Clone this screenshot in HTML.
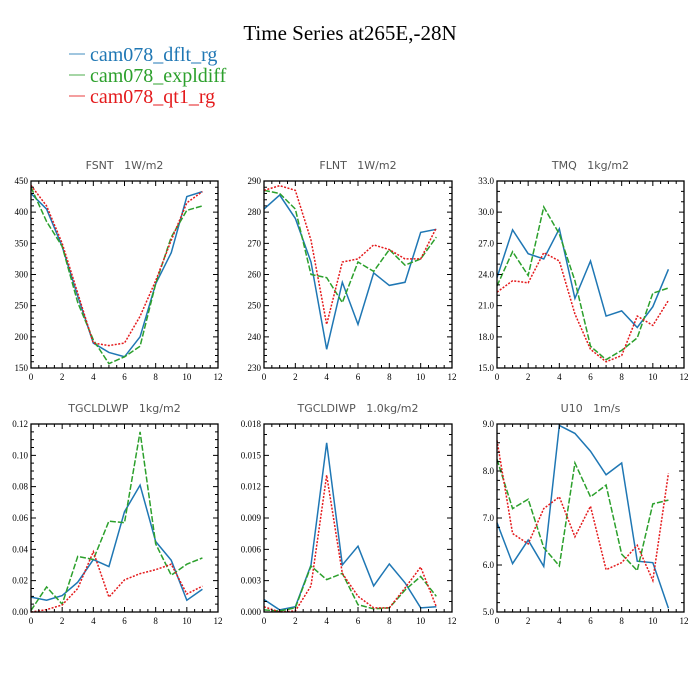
<!DOCTYPE html>
<html><head><meta charset="utf-8"><style>
body{margin:0;background:#fff}
svg{display:block}
.pt{white-space:pre}
</style></head><body>
<svg id="c" width="700" height="700" xmlns="http://www.w3.org/2000/svg">
<rect width="700" height="700" fill="#fff"/>
<text x="350" y="40" font-family="Liberation Serif, serif" font-size="21" text-anchor="middle" fill="#000">Time Series at265E,-28N</text>
<g>
<g><line x1="69" y1="54" x2="85" y2="54" stroke="#1f77b4" stroke-width="1.2" opacity="0.7"/><text x="90" y="61" font-family="Liberation Serif, serif" font-size="20" fill="#1f77b4">cam078_dflt_rg</text></g>
<g><line x1="69" y1="75" x2="85" y2="75" stroke="#2ca02c" stroke-width="1.2" opacity="0.7"/><text x="90" y="82" font-family="Liberation Serif, serif" font-size="20" fill="#2ca02c">cam078_expldiff</text></g>
<g><line x1="69" y1="96" x2="85" y2="96" stroke="#e41a1c" stroke-width="1.2" opacity="0.7"/><text x="90" y="103" font-family="Liberation Serif, serif" font-size="20" fill="#e41a1c">cam078_qt1_rg</text></g>
</g>
</svg>
<script>
const months=[0,1,2,3,4,5,6,7,8,9,10,11];
const xTicks=["0","2","4","6","8","10","12"];
const fsntBlue=[430,405,345,265,190,175,168,200,285,335,425,433];
const fsntGreen=[440,385,345,255,195,157,168,185,285,360,403,410];
const fsntRed=[443,410,350,270,190,186,190,233,290,355,415,433];
const flntBlue=[281,285.5,278,264,236,257.5,244,260.5,256.5,257.5,273.5,274.5];
const flntGreen=[287,286,281,260,259,251,264,261,268,263,265,272];
const flntRed=[287,288.5,287,271,244,264,265,269.5,268,265,265,275];
const tmqBlue=[23.7,28.3,26,25.5,28.4,21.7,25.3,20,20.5,18.9,20.9,24.5];
const tmqGreen=[22.9,26.2,23.9,30.5,27.9,23.4,17.1,15.8,16.7,17.9,22.2,22.7];
const tmqRed=[22.3,23.4,23.2,26.1,25.3,20.2,16.8,15.6,16.2,20.0,19.1,21.5];
const lwpBlue=[.0095,.0075,.0105,.019,.0335,.029,.064,.081,.045,.033,.0075,.0145];
const lwpGreen=[.001,.016,.005,.0355,.0335,.058,.057,.115,.0435,.0235,.0305,.0345];
const lwpRed=[0,.0015,.0045,.015,.0385,.0095,.0205,.0245,.027,.0305,.0115,.0165];
const iwpBlue=[.0012,.0002,.0005,.0045,.0162,.0045,.0063,.0025,.0046,.0028,.0004,.0005];
const iwpGreen=[.0002,.0001,.0004,.0044,.0031,.0037,.0007,.0003,.0004,.0021,.0034,.0015];
const iwpRed=[.0005,0,.0001,.0025,.0131,.0037,.0015,.0004,.0004,.0023,.0043,.0005];
const u10Blue=[6.9,6.03,6.53,5.97,8.97,8.8,8.42,7.92,8.17,6.08,6.05,5.08];
const u10Green=[8.25,7.2,7.4,6.37,5.98,8.17,7.45,7.7,6.23,5.88,7.3,7.38];
const u10Red=[8.65,6.67,6.45,7.2,7.45,6.6,7.25,5.9,6.05,6.42,5.67,7.95];
const fsntTicks=["150","200","250","300","350","400","450"];
const flntTicks=["230","240","250","260","270","280","290"];
const tmqTicks=["15.0","18.0","21.0","24.0","27.0","30.0","33.0"];
const lwpTicks=["0.00","0.02","0.04","0.06","0.08","0.10","0.12"];
const iwpTicks=["0.000","0.003","0.006","0.009","0.012","0.015","0.018"];
const u10Ticks=["5.0","6.0","7.0","8.0","9.0"];

const NS="http://www.w3.org/2000/svg";
const svg=document.getElementById('c');
function mk(tag,attrs,parent){const e=document.createElementNS(NS,tag);for(const k in attrs)e.setAttribute(k,attrs[k]);parent.appendChild(e);return e;}
const panels=[
 {name:"fsnt",title:"FSNT   1W/m2",x0:31,x1:218,y0:181,y1:368,yt:fsntTicks,s:[fsntBlue,fsntGreen,fsntRed],minor:5},
 {name:"flnt",title:"FLNT   1W/m2",x0:264,x1:452,y0:181,y1:368,yt:flntTicks,s:[flntBlue,flntGreen,flntRed],minor:5},
 {name:"tmq",title:"TMQ   1kg/m2",x0:497,x1:684,y0:181,y1:368,yt:tmqTicks,s:[tmqBlue,tmqGreen,tmqRed],minor:3},
 {name:"tgcldlwp",title:"TGCLDLWP   1kg/m2",x0:31,x1:218,y0:424,y1:612,yt:lwpTicks,s:[lwpBlue,lwpGreen,lwpRed],minor:4},
 {name:"tgcldiwp",title:"TGCLDIWP   1.0kg/m2",x0:264,x1:452,y0:424,y1:612,yt:iwpTicks,s:[iwpBlue,iwpGreen,iwpRed],minor:3},
 {name:"u10",title:"U10   1m/s",x0:497,x1:684,y0:424,y1:612,yt:u10Ticks,s:[u10Blue,u10Green,u10Red],minor:5}
];
const colors=["#1f77b4","#2ca02c","#e41a1c"];
const dashes=["none","6,2","2,1.5"];
const snames=["dflt","expldiff","qt1"];
panels.forEach(p=>{
 const g=mk('g',{},svg);
 
 
 const ymin=parseFloat(p.yt[0]),ymax=parseFloat(p.yt[p.yt.length-1]);
 const X=v=>p.x0+(v-0)/12*(p.x1-p.x0);
 const Y=v=>p.y1-(v-ymin)/(ymax-ymin)*(p.y1-p.y0);
 const t=mk('text',{x:(p.x0+p.x1)/2,y:p.y0-12,'font-family':'DejaVu Sans, sans-serif','font-size':'11','text-anchor':'middle',fill:'#555','class':'pt'},g);
 t.textContent=p.title;
 
 
 p.s.forEach((arr,i)=>{
  const pts=months.map((m,j)=>X(m).toFixed(2)+","+Y(arr[j]).toFixed(2)).join(" ");
  const pl=mk('polyline',{points:pts,fill:'none',stroke:colors[i],'stroke-width':'1.5','stroke-dasharray':dashes[i]},g);
  
  
 });
 const box=mk('rect',{x:p.x0,y:p.y0,width:p.x1-p.x0,height:p.y1-p.y0,fill:'none',stroke:'#000','stroke-width':'1.3'},g);
 
 
 let d="";
 for(let v=0;v<=12.001;v+=0.5){const x=X(v);const L=(Math.abs(v-Math.round(v/2)*2)<1e-6)?5:3;d+=`M${x},${p.y1}v${-L}M${x},${p.y0}v${L}`;}
 const nInt=p.yt.length-1;const step=(ymax-ymin)/nInt;
 for(let i=0;i<=nInt*p.minor;i++){const v=ymin+i*step/p.minor;const y=Y(v);const L=(i%p.minor===0)?5:3;d+=`M${p.x0},${y}h${L}M${p.x1},${y}h${-L}`;}
 mk('path',{d:d,stroke:'#000','stroke-width':'1',fill:'none'},g);
 xTicks.forEach((s,i)=>{const tx=mk('text',{x:X(i*2),y:p.y1+12,'font-family':'Liberation Serif, serif','font-size':'9','text-anchor':'middle',fill:'#000'},g);tx.textContent=s;
  
  });
 p.yt.forEach((s,i)=>{const ty=mk('text',{x:p.x0-3,y:Y(parseFloat(s))+3,'font-family':'Liberation Serif, serif','font-size':'9','text-anchor':'end',fill:'#000'},g);ty.textContent=s;
  
  });
});
</script>
</body></html>
